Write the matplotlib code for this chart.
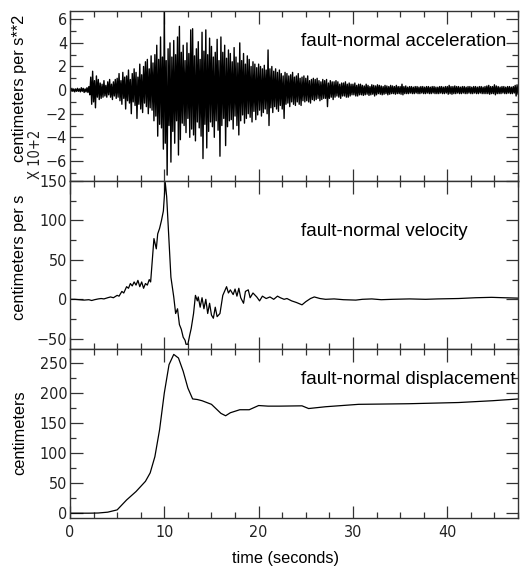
import numpy as np
import matplotlib
matplotlib.use("Agg")
import matplotlib.pyplot as plt
from matplotlib.ticker import MultipleLocator

# ── dane ──────────────────────────────────────────────────
DT_ACC = 0.1  # krok próbkowania przyspieszenia [s]

# przyspieszenie (x 100 cm/s^2), kolejne sekundy po 10 próbek
acc_values = [
    0.1, -0.1, 0.15, -0.1, 0.1, -0.15, 0.1, -0.1, 0.15, -0.1,
    0.1, -0.15, 0.2, -0.1, 0.15, -0.2, 0.1, -0.15, 0.2, -0.2,
    0.3, -0.4, 1.1, -1.2, 1.6, -1.0, 0.8, -1.5, 1.2, -0.6,
    0.9, -0.8, 0.6, -0.7, 0.5, -0.6, 0.8, -0.5, 0.4, -0.6,
    0.7, -0.4, 0.9, -0.6, 0.5, -0.8, 0.7, -0.5, 0.9, -0.7,
    1.0, -0.6, 1.4, -0.9, 0.8, -1.2, 1.5, -0.7, 1.1, -1.6,
    1.2, -0.9, 1.7, -1.1, 0.9, -2.0, 1.4, -1.0, 1.8, -1.3,
    1.5, -2.4, 1.1, -1.2, 2.2, -1.6, 1.3, -1.9, 2.0, -1.1,
    2.4, -1.4, 2.6, -2.0, 1.8, -1.5, 2.9, -1.7, 2.3, -2.6,
    3.0, -2.2, 3.8, -3.9, 2.6, -2.9, 4.5, -3.2, 2.8, -5.0,
    6.7, -4.5, 2.5, -7.2, 3.5, -3.0, 4.0, -6.1, 2.8, -3.5,
    4.2, -4.5, 3.0, -2.6, 4.5, -5.5, 5.4, -4.2, 3.2, -2.8,
    3.8, -3.0, 2.5, -3.6, 4.0, -2.4, 3.1, -4.0, 5.1, -3.3,
    5.2, -3.8, 2.9, -4.3, 3.5, -2.7, 4.1, -3.2, 2.6, -3.9,
    4.9, -5.8, 3.3, -2.9, 5.1, -4.9, 3.0, -3.5, 4.4, -2.7,
    3.7, -3.1, 2.8, -4.0, 3.2, -2.6, 4.3, -3.4, 2.5, -5.6,
    4.5, -3.0, 3.2, -2.4, 3.8, -4.7, 2.7, -3.1, 3.4, -2.6,
    3.1, -2.5, 2.4, -3.3, 3.6, -2.2, 2.8, -3.0, 2.3, -3.8,
    4.0, -2.6, 2.5, -2.1, 3.1, -2.8, 2.2, -2.4, 2.9, -2.0,
    2.6, -2.3, 2.0, -2.7, 2.4, -1.8, 2.2, -2.5, 1.9, -2.1,
    2.2, -1.7, 2.0, -2.2, 1.8, -1.9, 2.1, -1.6, 1.7, -2.0,
    3.4, -3.0, 1.8, -1.5, 2.0, -1.9, 1.6, -1.4, 1.8, -1.6,
    1.5, -1.8, 1.7, -1.3, 1.4, -1.6, 1.2, -2.4, 1.5, -1.2,
    1.4, -1.1, 1.2, -1.4, 1.3, -1.0, 1.5, -1.2, 1.1, -1.3,
    1.2, -1.0, 1.4, -1.2, 1.0, -1.3, 1.1, -0.9, 1.2, -1.0,
    1.0, -0.9, 1.2, -1.0, 0.8, -1.1, 0.9, -0.8, 1.0, -0.9,
    0.9, -0.8, 1.0, -0.7, 0.8, -0.9, 0.7, -0.8, 0.9, -0.7,
    0.8, -0.7, 0.9, -1.4, 0.6, -0.7, 0.8, -0.6, 0.7, -0.8,
    0.7, -0.6, 0.8, -0.5, 0.7, -0.6, 0.5, -0.7, 0.6, -0.5,
    0.6, -0.5, 0.7, -0.6, 0.5, -0.6, 0.6, -0.5, 0.5, -0.4,
    0.5, -0.4, 0.6, -0.5, 0.4, -0.5, 0.5, -0.4, 0.5, -0.4,
    0.4, -0.45, 0.35, -0.4, 0.5, -0.35, 0.4, -0.45, 0.3, -0.4,
    0.45, -0.35, 0.4, -0.5, 0.35, -0.4, 0.45, -0.3, 0.4, -0.35,
    0.35, -0.4, 0.3, -0.35, 0.4, -0.3, 0.35, -0.4, 0.3, -0.35,
    0.4, -0.3, 0.35, -0.3, 0.3, -0.35, 0.4, -0.3, 0.3, -0.3,
    0.3, -0.35, 0.5, -0.4, 0.3, -0.3, 0.35, -0.3, 0.25, -0.3,
    0.3, -0.25, 0.3, -0.3, 0.25, -0.3, 0.3, -0.25, 0.3, -0.3,
    0.25, -0.3, 0.3, -0.25, 0.3, -0.3, 0.25, -0.3, 0.3, -0.25,
    0.3, -0.3, 0.25, -0.3, 0.3, -0.25, 0.3, -0.3, 0.25, -0.3,
    0.25, -0.3, 0.3, -0.25, 0.3, -0.3, 0.25, -0.3, 0.3, -0.25,
    0.3, -0.35, 0.4, -0.3, 0.3, -0.35, 0.3, -0.3, 0.35, -0.3,
    0.3, -0.25, 0.3, -0.3, 0.25, -0.3, 0.3, -0.25, 0.3, -0.3,
    0.25, -0.3, 0.3, -0.25, 0.3, -0.3, 0.25, -0.3, 0.3, -0.25,
    0.3, -0.3, 0.25, -0.3, 0.3, -0.25, 0.3, -0.3, 0.25, -0.3,
    0.3, -0.3, 0.35, -0.3, 0.4, -0.35, 0.3, -0.3, 0.3, -0.3,
    0.45, -0.4, 0.35, -0.3, 0.3, -0.3, 0.25, -0.3, 0.3, -0.25,
    0.3, -0.3, 0.25, -0.3, 0.3, -0.25, 0.3, -0.3, 0.25, -0.3,
    0.3, -0.25, 0.4, -0.5, 0.45, -0.35, 0.3, -0.3, 0.3, -0.3,
]

# prędkość (cm/s)
vel_t = [0.0, 0.5, 1.0, 1.5, 2.0, 2.3, 2.6, 3.0, 3.3, 3.6, 4.0, 4.3, 4.6,
         5.0, 5.2, 5.5, 5.7, 6.0, 6.2, 6.4, 6.6, 6.8, 7.0, 7.2, 7.4, 7.6,
         7.8, 8.0, 8.2, 8.4, 8.55, 8.9, 9.15, 9.3, 9.5, 9.7, 9.9, 10.1,
         10.25, 10.4, 10.7, 11.0, 11.2, 11.4, 11.6, 11.8, 12.0, 12.2, 12.3,
         12.5, 12.7, 12.85, 13.1, 13.3, 13.5, 13.6, 13.8, 14.0, 14.2, 14.4,
         14.6, 14.8, 15.0, 15.2, 15.4, 15.6, 15.9, 16.2, 16.6, 16.8, 17.0,
         17.3, 17.5, 17.7, 17.9, 18.1, 18.4, 18.6, 18.9, 19.1, 19.4, 19.8,
         20.1, 20.4, 20.8, 21.2, 21.6, 22.0, 22.3, 22.7, 23.0, 23.5, 24.0,
         24.6, 25.0, 25.5, 25.9, 26.5, 27.1, 28.0, 29.0, 30.3, 31.0, 32.0,
         33.0, 34.2, 36.0, 37.7, 39.0, 41.2, 43.0, 44.7, 46.0, 47.5]
vel_v = [0, 0, -0.5, -1, -0.5, -1.5, -0.5, 0.5, 1, 0.5, 2, 3, 2,
         5, 4, 10, 8, 16, 14, 20, 17, 22, 18, 24, 16, 22,
         14, 20, 18, 25, 22, 77, 64, 83, 90, 100, 112, 148,
         130, 96, 28, 3, -18, -12, -32, -38, -48, -52, -57,
         -57, -45, -37, -18, 5, -2, 3, -10, 2, -12, 0,
         -18, -5, -20, -24, -10, -22, -18, 5, 16, 8, 12,
         6, 13, 4, 14, 2, -5, 10, 12, 2, 8, 3,
         -2, 4, 1, 3, 0, 4, 2, 0, 1, -2, -4,
         -7, -3, 1, 3, 1, 0, 0.5, -0.5, -1, 0, 0.5,
         -0.5, 0, 0.5, 0, 0.5, 1, 2, 2.5, 2, 1.5]

# przemieszczenie (cm)
dis_t = [0, 1, 2, 3, 4, 5, 6, 7, 8, 8.5, 9, 9.5, 10, 10.5, 11, 11.5, 12,
         12.5, 13, 13.5, 14, 15, 16, 16.5, 17, 18, 19, 20, 21, 22.2, 24.6,
         25.3, 27.1, 30.6, 35.9, 41.2, 44.8, 47.6]
dis_v = [0, 0, 0, 0.3, 1.7, 5.5, 22, 36, 53, 67, 94, 139, 200, 247, 264,
         258, 236, 208, 190, 189, 187, 181, 166, 162, 167, 172, 172, 179,
         178, 178, 178.5, 174, 177, 181, 182, 184, 187, 190]

# ── rysunek ───────────────────────────────────────────────
W, H = 522, 569
fig = plt.figure(figsize=(W / 100, H / 100), dpi=100)

TICK_FONT = dict(family="DejaVu Sans", stretch="condensed", size=11.5)
LABEL_FONT = dict(family=["Liberation Sans", "DejaVu Sans"], size=11.7)
NOTE_FONT = dict(family=["Liberation Sans", "DejaVu Sans"], size=13.5)
FRAME = "#333333"
TICK_COLOR = "#222222"


def px_box(top, bottom, left=70, right=518):
    return [left / W, 1 - bottom / H, (right - left) / W, (bottom - top) / H]


def style_ticklabels(labels):
    for lab in labels:
        lab.set_fontfamily(TICK_FONT["family"])
        lab.set_fontstretch(TICK_FONT["stretch"])
        lab.set_fontsize(TICK_FONT["size"])
        lab.set_color(TICK_COLOR)


ax1 = fig.add_axes(px_box(11, 181))
ax2 = fig.add_axes(px_box(181, 349), sharex=ax1)
ax3 = fig.add_axes(px_box(349, 518), sharex=ax1)

acc_t = np.arange(len(acc_values)) * DT_ACC
ax1.plot(acc_t, acc_values, color="black", linewidth=1.0)
ax2.plot(vel_t, vel_v, color="black", linewidth=0.9)
ax3.plot(dis_t, dis_v, color="black", linewidth=0.9)

ax1.set_ylim(-7.7, 6.7)
ax2.set_ylim(-63, 150)
ax3.set_ylim(-8, 273)
ax1.set_xlim(0, 47.5)

for ax, major, minor in [(ax1, 2, 1), (ax2, 50, 25), (ax3, 50, 25)]:
    ax.yaxis.set_major_locator(MultipleLocator(major))
    ax.yaxis.set_minor_locator(MultipleLocator(minor))
    ax.xaxis.set_major_locator(MultipleLocator(10))
    ax.xaxis.set_minor_locator(MultipleLocator(2.5))
    ax.tick_params(which="both", direction="in", top=True, right=True,
                   color=FRAME, width=0.9, pad=2)
    ax.tick_params(which="major", length=9)
    ax.tick_params(which="minor", length=4.5)
    for s in ax.spines.values():
        s.set_color(FRAME)
        s.set_linewidth(1.0)
    style_ticklabels(ax.get_yticklabels())

ax1.tick_params(labelbottom=False)
ax2.tick_params(labelbottom=False)
style_ticklabels(ax3.get_xticklabels())
ax3.tick_params(axis="x", pad=5)

# opisy osi
fig.text(20 / W, 1 - 88 / H, "centimeters per s**2", rotation=90,
         ha="center", va="center", **LABEL_FONT)
fig.text(20 / W, 1 - 257 / H, "centimeters per s", rotation=90,
         ha="center", va="center", **LABEL_FONT)
fig.text(20 / W, 1 - 433 / H, "centimeters", rotation=90,
         ha="center", va="center", **LABEL_FONT)
fig.text(36 / W, 1 - 179 / H, "X 10+2", rotation=90, ha="center",
         va="bottom", color=TICK_COLOR, family="DejaVu Sans",
         stretch="condensed", size=10.5)
fig.text(285 / W, 1 - 558 / H, "time (seconds)", ha="center", va="center",
         **LABEL_FONT)

# podpisy paneli
fig.text(301 / W, 1 - 46 / H, "fault-normal acceleration", ha="left",
         va="baseline", **NOTE_FONT)
fig.text(301 / W, 1 - 236 / H, "fault-normal velocity", ha="left",
         va="baseline", **NOTE_FONT)
fig.text(301 / W, 1 - 384 / H, "fault-normal displacement", ha="left",
         va="baseline", **NOTE_FONT)

fig.savefig("out.png", dpi=100)
